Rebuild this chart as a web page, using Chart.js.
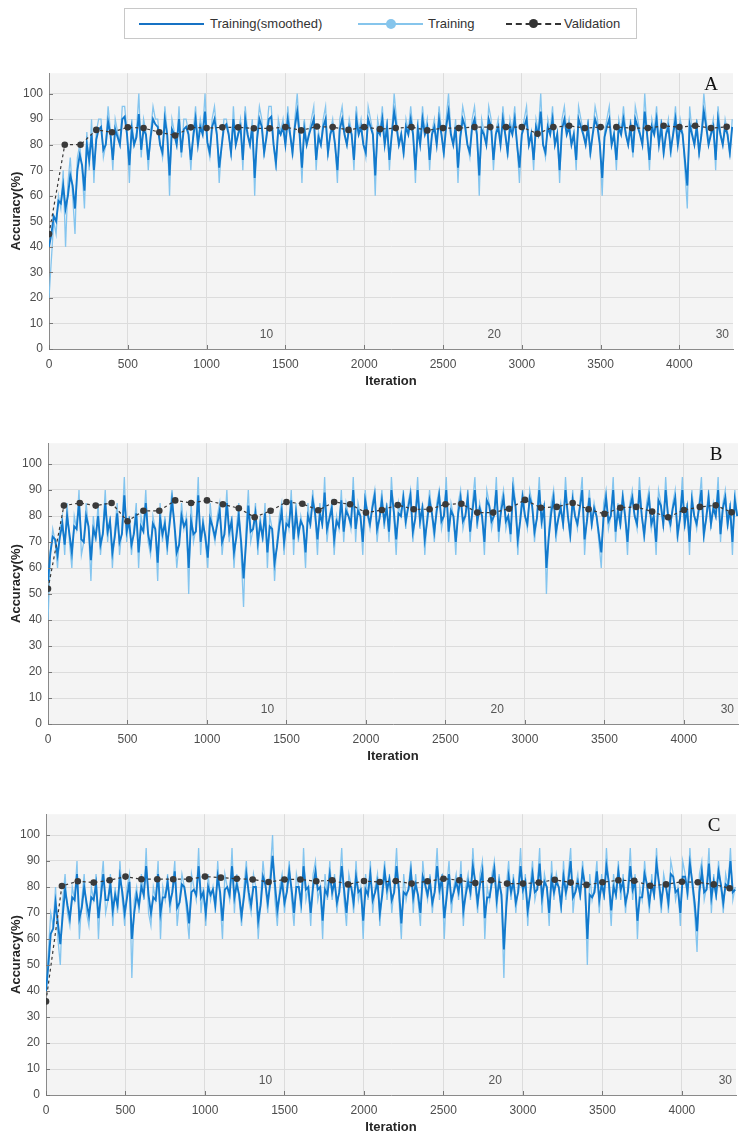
<!DOCTYPE html>
<html>
<head>
<meta charset="utf-8">
<script src="https://cdn.jsdelivr.net/npm/chart.js@4.4.1/dist/chart.umd.min.js"></script>
<style>
  body { margin: 0; width: 744px; height: 1144px; background: #fff; position: relative; overflow: hidden;
         font-family: "Liberation Sans", Arial, sans-serif; }
  canvas { position: absolute; left: 0; }
  #legend { position: absolute; left: 124px; top: 8px; width: 511px; height: 29px;
            border: 1px solid #c8c8c8; background: #fff; font-size: 13px; color: #333; }
  #legend .ln { position: absolute; top: 14px; height: 0; }
  #legend .dot { position: absolute; border-radius: 50%; }
  #legend .tx { position: absolute; top: 7px; white-space: nowrap; }
</style>
</head>
<body>

<div id="legend">
  <div class="ln" style="left:14px;width:65px;border-top:2px solid #1672c4"></div>
  <div class="tx" style="left:85px">Training(smoothed)</div>
  <div class="ln" style="left:233px;width:65px;border-top:2px solid #86c5ec"></div>
  <div class="dot" style="left:261px;top:10px;width:10px;height:10px;background:#86c5ec"></div>
  <div class="tx" style="left:303px">Training</div>
  <div class="ln" style="left:381px;width:55px;border-top:2px dashed #333"></div>
  <div class="dot" style="left:404px;top:10px;width:9px;height:9px;background:#333"></div>
  <div class="tx" style="left:439px">Validation</div>
</div>

<canvas id="chartA" width="744" height="331" style="top:60px"></canvas>
<canvas id="chartB" width="744" height="336" style="top:430px"></canvas>
<canvas id="chartC" width="744" height="336" style="top:801px"></canvas>

<script>
// training accuracy read every 15 iterations, validation every 100
const iterStep = 15;
const valStep = 100;
const maxIter = 4340;
const xTicks = [0, 500, 1000, 1500, 2000, 2500, 3000, 3500, 4000];
const yTicks = [0, 10, 20, 30, 40, 50, 60, 70, 80, 90, 100];
const epochLabels = ["10", "20", "30"];
const epochEnds = [1447, 2893, 4340];

// ---- panel A ----
const trainA = [
  20, 35, 50, 45, 60, 55, 70, 40, 65, 75,
  60, 45, 75, 80, 70, 55, 85, 70, 90, 65,
  85, 90, 90, 75, 80, 95, 85, 70, 90, 85,
  80, 95, 95, 85, 65, 90, 80, 85, 100, 75,
  90, 85, 70, 85, 95, 90, 90, 80, 75, 95,
  85, 60, 90, 85, 80, 95, 75, 90, 90, 85,
  70, 85, 95, 80, 90, 85, 100, 80, 75, 90,
  95, 85, 65, 80, 90, 90, 85, 75, 95, 80,
  85, 90, 70, 95, 85, 80, 90, 60, 85, 95,
  90, 75, 85, 95, 95, 80, 70, 90, 85, 90,
  80, 95, 85, 75, 90, 100, 85, 65, 90, 80,
  85, 90, 95, 70, 85, 80, 90, 95, 75, 85,
  90, 80, 65, 90, 95, 85, 80, 90, 85, 70,
  95, 85, 90, 80, 75, 95, 90, 85, 60, 90,
  85, 95, 80, 90, 70, 85, 100, 90, 80, 85,
  75, 90, 85, 95, 85, 65, 90, 80, 95, 85,
  90, 70, 85, 90, 80, 95, 85, 75, 90, 100,
  85, 80, 90, 65, 85, 95, 90, 80, 75, 90,
  95, 85, 60, 90, 85, 80, 95, 90, 70, 85,
  90, 80, 95, 85, 75, 90, 85, 95, 80, 65,
  85, 90, 95, 80, 85, 70, 90, 85, 100, 80,
  75, 90, 85, 95, 80, 85, 65, 90, 95, 85,
  90, 80, 85, 70, 95, 90, 85, 80, 90, 75,
  85, 95, 90, 80, 60, 85, 90, 95, 80, 85,
  70, 90, 85, 95, 85, 80, 90, 75, 95, 90,
  85, 80, 100, 85, 70, 90, 85, 95, 80, 90,
  75, 85, 90, 75, 85, 95, 80, 90, 85, 70,
  55, 95, 85, 80, 90, 75, 85, 100, 90, 80,
  85, 90, 70, 95, 85, 80, 90, 85, 75, 90
];
const smoothA = [
  40, 45, 52, 50, 58, 57, 64, 55, 60, 68,
  64, 55, 70, 76, 72, 62, 80, 74, 84, 70,
  82, 86, 87, 78, 80, 89, 84, 74, 86, 83,
  80, 90, 91, 84, 72, 86, 80, 83, 92, 78,
  86, 84, 74, 83, 90, 88, 87, 80, 77, 90,
  84, 68, 86, 84, 80, 90, 77, 86, 87, 84,
  74, 83, 90, 80, 87, 84, 93, 81, 77, 87,
  90, 84, 71, 79, 87, 88, 84, 77, 90, 80,
  84, 87, 74, 90, 84, 80, 87, 67, 82, 90,
  87, 77, 83, 90, 91, 80, 73, 86, 84, 87,
  80, 90, 84, 77, 87, 93, 84, 71, 86, 80,
  84, 87, 90, 74, 83, 80, 87, 90, 77, 84,
  87, 80, 70, 86, 90, 84, 80, 87, 84, 74,
  90, 84, 87, 80, 77, 90, 87, 84, 68, 86,
  84, 90, 80, 87, 74, 84, 93, 87, 80, 84,
  77, 87, 84, 90, 84, 70, 86, 80, 90, 84,
  87, 74, 84, 87, 80, 90, 84, 77, 87, 93,
  84, 80, 87, 71, 83, 90, 87, 80, 77, 87,
  90, 84, 68, 86, 84, 80, 90, 87, 74, 84,
  87, 80, 90, 84, 77, 87, 84, 90, 80, 71,
  84, 87, 90, 80, 84, 74, 87, 84, 93, 80,
  77, 87, 84, 90, 80, 84, 70, 86, 90, 84,
  87, 80, 84, 74, 90, 87, 84, 80, 87, 77,
  84, 90, 87, 80, 67, 83, 87, 90, 80, 84,
  74, 87, 84, 90, 84, 80, 87, 77, 90, 87,
  84, 80, 93, 84, 74, 87, 84, 90, 80, 87,
  77, 84, 87, 78, 84, 90, 80, 87, 84, 74,
  64, 88, 84, 80, 87, 77, 84, 93, 87, 80,
  84, 87, 74, 90, 84, 80, 87, 84, 77, 87
];
const valA = [
  45, 80, 80, 85.8, 84.9, 86.8, 86.5, 84.9, 83.6, 86.8,
  86.5, 86.8, 86.8, 86.4, 86.4, 86.9, 85.6, 87.1, 86.9, 85.8,
  86.9, 86.1, 86.5, 86.9, 85.6, 86.5, 86.5, 86.9, 86.9, 86.9,
  86.9, 84.3, 86.9, 87.4, 86.5, 86.9, 86.9, 86.5, 86.5, 87.4,
  86.9, 87.4, 86.5, 87
];

// ---- panel B ----
const trainB = [
  40, 65, 75, 70, 60, 75, 80, 65, 85, 70,
  60, 80, 75, 90, 65, 70, 85, 75, 55, 80,
  70, 85, 65, 75, 90, 70, 80, 60, 75, 85,
  65, 75, 95, 70, 80, 65, 75, 85, 60, 80,
  75, 90, 70, 65, 80, 75, 55, 85, 70, 80,
  65, 80, 90, 75, 60, 70, 85, 75, 80, 50,
  85, 70, 75, 95, 65, 80, 70, 60, 85, 75,
  70, 80, 85, 65, 75, 90, 70, 80, 60, 75,
  85, 65, 45, 75, 90, 70, 75, 85, 65, 80,
  70, 85, 60, 80, 75, 55, 70, 80, 85, 65,
  80, 75, 90, 65, 85, 70, 80, 75, 60, 85,
  75, 90, 80, 65, 85, 75, 95, 70, 80, 85,
  65, 80, 75, 90, 70, 85, 80, 75, 95, 70,
  85, 80, 65, 90, 80, 75, 85, 90, 70, 80,
  90, 75, 85, 70, 95, 80, 65, 85, 80, 90,
  75, 85, 90, 70, 80, 95, 75, 85, 65, 80,
  90, 80, 70, 85, 90, 75, 80, 95, 70, 85,
  80, 65, 85, 90, 75, 80, 90, 70, 85, 95,
  75, 85, 80, 65, 90, 85, 75, 80, 95, 70,
  85, 90, 75, 80, 70, 95, 85, 65, 80, 90,
  80, 75, 90, 85, 70, 80, 95, 75, 85, 50,
  75, 85, 90, 70, 80, 85, 75, 95, 80, 70,
  90, 80, 75, 85, 95, 65, 80, 90, 75, 85,
  80, 70, 60, 85, 90, 75, 80, 95, 70, 85,
  75, 90, 80, 65, 85, 90, 80, 75, 95, 80,
  70, 85, 90, 75, 80, 65, 90, 85, 75, 95,
  80, 75, 85, 90, 70, 80, 95, 75, 85, 65,
  90, 80, 75, 85, 95, 70, 80, 90, 75, 85,
  80, 95, 70, 85, 90, 75, 85, 65, 90, 80
];
const smoothB = [
  55, 66, 72, 71, 65, 72, 77, 69, 80, 73,
  66, 76, 75, 85, 71, 70, 80, 76, 63, 75,
  72, 80, 69, 73, 85, 74, 78, 66, 72, 81,
  70, 73, 88, 74, 78, 69, 73, 81, 66, 76,
  74, 85, 73, 68, 77, 75, 62, 79, 73, 77,
  69, 77, 86, 77, 66, 69, 80, 76, 78, 60,
  78, 73, 74, 88, 70, 77, 72, 64, 79, 76,
  72, 77, 82, 70, 73, 85, 74, 78, 66, 72,
  80, 70, 56, 69, 84, 74, 75, 81, 70, 77,
  72, 81, 66, 76, 75, 62, 68, 76, 82, 70,
  77, 76, 86, 71, 81, 73, 78, 76, 66, 80,
  77, 86, 81, 71, 81, 77, 89, 75, 79, 83,
  71, 78, 76, 86, 74, 82, 80, 77, 90, 75,
  82, 80, 70, 86, 81, 77, 83, 88, 75, 79,
  86, 78, 83, 74, 90, 82, 71, 81, 80, 87,
  78, 83, 88, 74, 79, 90, 78, 83, 71, 78,
  86, 81, 74, 82, 88, 78, 80, 90, 74, 82,
  80, 70, 81, 87, 78, 80, 87, 74, 82, 90,
  78, 83, 80, 70, 86, 84, 78, 80, 90, 74,
  82, 87, 78, 80, 73, 90, 84, 71, 78, 87,
  80, 77, 87, 84, 74, 79, 90, 78, 83, 60,
  72, 81, 87, 74, 79, 83, 77, 90, 80, 73,
  86, 80, 77, 83, 90, 71, 78, 87, 77, 83,
  80, 73, 66, 80, 87, 78, 80, 90, 74, 82,
  77, 87, 80, 70, 83, 87, 80, 77, 90, 80,
  73, 82, 87, 77, 80, 70, 86, 84, 77, 90,
  80, 77, 83, 87, 73, 79, 90, 77, 83, 70,
  86, 80, 77, 83, 90, 73, 79, 87, 77, 83,
  80, 90, 73, 83, 87, 77, 83, 70, 86, 80
];
const valB = [
  52, 84, 85, 84, 85, 78, 82, 82, 86, 85,
  86, 84.5, 83, 79.5, 82, 85.4, 84.7, 82.2, 85.4, 84.5,
  81.3, 82.3, 84.2, 82.6, 82.6, 84.5, 84.7, 81.3, 81.3, 82.8,
  86.2, 83.2, 83.5, 85, 82.6, 80.8, 83.2, 83.5, 81.7, 79.5,
  82.3, 83.5, 84.1, 81.4
];

// ---- panel C ----
const trainC = [
  40, 55, 70, 65, 80, 60, 50, 75, 85, 70,
  65, 80, 75, 90, 60, 75, 85, 70, 65, 80,
  75, 85, 60, 80, 90, 70, 75, 85, 65, 80,
  70, 90, 75, 65, 80, 85, 45, 75, 80, 70,
  85, 75, 95, 70, 65, 80, 75, 90, 60, 80,
  75, 85, 70, 80, 90, 65, 75, 85, 80, 70,
  60, 85, 80, 75, 95, 70, 80, 65, 85, 75,
  80, 70, 90, 75, 60, 85, 80, 75, 95, 70,
  85, 75, 65, 80, 90, 75, 70, 85, 80, 60,
  75, 90, 80, 70, 85, 100, 75, 65, 80, 85,
  70, 80, 90, 75, 65, 85, 80, 70, 95, 75,
  80, 65, 85, 90, 75, 80, 60, 85, 75, 90,
  75, 85, 70, 80, 95, 75, 65, 85, 80, 70,
  90, 75, 80, 60, 85, 75, 90, 70, 80, 85,
  65, 80, 90, 75, 85, 70, 80, 95, 75, 60,
  85, 75, 80, 90, 70, 85, 75, 65, 90, 80,
  75, 85, 70, 80, 95, 75, 85, 60, 80, 90,
  70, 80, 85, 75, 90, 65, 80, 85, 75, 95,
  80, 70, 85, 90, 60, 80, 75, 85, 90, 70,
  85, 75, 45, 80, 90, 75, 85, 70, 80, 95,
  75, 85, 65, 80, 90, 75, 80, 95, 70, 85,
  80, 65, 90, 75, 85, 80, 70, 90, 75, 85,
  95, 70, 80, 85, 75, 90, 80, 50, 85, 75,
  80, 90, 70, 85, 75, 95, 80, 65, 85, 75,
  90, 75, 85, 70, 80, 95, 75, 85, 60, 80,
  75, 90, 80, 70, 85, 75, 95, 80, 70, 85,
  80, 70, 90, 85, 75, 80, 65, 90, 85, 75,
  95, 80, 70, 55, 85, 90, 75, 80, 95, 70,
  85, 75, 90, 80, 70, 85, 80, 95, 75, 80
];
const smoothC = [
  40, 50, 62, 64, 74, 66, 58, 69, 79, 73,
  68, 76, 75, 85, 68, 72, 80, 74, 69, 76,
  75, 81, 68, 76, 85, 75, 75, 81, 71, 77,
  73, 84, 78, 70, 76, 82, 60, 70, 77, 73,
  80, 77, 88, 77, 70, 76, 75, 85, 70, 76,
  76, 82, 74, 78, 86, 72, 74, 81, 80, 74,
  66, 78, 79, 77, 88, 76, 78, 70, 80, 77,
  79, 73, 84, 78, 67, 79, 80, 77, 88, 76,
  81, 77, 69, 76, 85, 78, 73, 80, 80, 67,
  73, 84, 81, 74, 81, 92, 81, 71, 77, 82,
  74, 78, 86, 79, 70, 80, 80, 74, 88, 79,
  80, 70, 80, 86, 79, 80, 67, 79, 77, 85,
  78, 82, 74, 78, 88, 79, 70, 80, 80, 74,
  84, 78, 79, 67, 79, 77, 85, 75, 78, 82,
  70, 77, 86, 79, 83, 75, 78, 88, 79, 66,
  78, 77, 79, 86, 76, 81, 77, 70, 84, 81,
  77, 82, 74, 78, 88, 79, 83, 68, 76, 85,
  75, 78, 82, 78, 85, 71, 77, 82, 78, 88,
  82, 74, 81, 86, 68, 76, 76, 82, 87, 75,
  82, 77, 56, 72, 84, 78, 82, 74, 78, 88,
  79, 82, 71, 77, 85, 78, 79, 89, 76, 82,
  80, 70, 83, 78, 82, 80, 73, 84, 78, 82,
  90, 76, 78, 82, 77, 86, 81, 60, 77, 76,
  78, 86, 75, 81, 77, 88, 82, 71, 80, 77,
  86, 79, 82, 74, 78, 88, 79, 82, 67, 76,
  76, 85, 81, 74, 81, 77, 89, 82, 74, 81,
  80, 74, 85, 84, 78, 79, 70, 84, 84, 78,
  89, 82, 74, 63, 78, 86, 78, 79, 89, 76,
  82, 77, 86, 81, 74, 81, 80, 90, 78, 79
];
const valC = [
  36, 80.4, 82.2, 81.7, 82.6, 84, 83, 83, 83, 83,
  84, 83.6, 83.2, 82.9, 81.9, 82.9, 82.9, 82.2, 82.6, 81,
  82.3, 81.9, 82.3, 81.3, 82.2, 83.2, 82.6, 81.5, 82.6, 81.3,
  81.3, 81.7, 82.8, 81.7, 80.8, 81.8, 82.6, 82.4, 80.5, 81,
  82, 81.8, 81, 79.5
];

const rawColor = "rgba(125, 194, 238, 0.95)";
const smoothColor = "#1279cc";
const valColor = "#3a3a3a";
const tickFont = { family: "'Liberation Sans', Arial, sans-serif", size: 12 };

// background, inward ticks, epoch numbers and panel letter
const panelExtras = {
    id: "panelExtras",
    beforeDraw(chart) {
        const a = chart.chartArea;
        const ctx = chart.ctx;
        ctx.save();
        ctx.fillStyle = "#f4f4f4";
        ctx.fillRect(a.left, a.top, a.right - a.left, a.bottom - a.top);
        ctx.restore();
    },
    afterDraw(chart, args, opts) {
        const a = chart.chartArea;
        const ctx = chart.ctx;
        const xs = chart.scales.x;
        const ys = chart.scales.y;
        ctx.save();
        ctx.strokeStyle = "#777";
        ctx.lineWidth = 1;
        xTicks.forEach(v => {
            const px = Math.round(xs.getPixelForValue(v)) + 0.5;
            ctx.beginPath();
            ctx.moveTo(px, a.bottom);
            ctx.lineTo(px, a.bottom - 4);
            ctx.stroke();
        });
        yTicks.forEach(v => {
            const py = Math.round(ys.getPixelForValue(v)) + 0.5;
            ctx.beginPath();
            ctx.moveTo(a.left, py);
            ctx.lineTo(a.left + 4, py);
            ctx.stroke();
        });
        ctx.fillStyle = "#555";
        ctx.font = "12px 'Liberation Sans', Arial, sans-serif";
        ctx.textAlign = "right";
        ctx.textBaseline = "middle";
        epochLabels.forEach((lab, i) => {
            ctx.fillText(lab, xs.getPixelForValue(epochEnds[i]) - 4, ys.getPixelForValue(5.5));
        });
        ctx.fillStyle = "#111";
        ctx.font = "19px 'Liberation Serif', 'Times New Roman', serif";
        ctx.textAlign = "center";
        ctx.fillText(opts.letter, a.right - 22, ys.getPixelForValue(103.5));
        ctx.restore();
    }
};

function makeChart(id, raw, smooth, val, letter, yWidth, padRight) {
    const ctx = document.getElementById(id).getContext("2d");
    return new Chart(ctx, {
        type: "line",
        data: {
            datasets: [
                {
                    label: "Validation",
                    data: val.map((v, i) => ({ x: i * valStep, y: v })),
                    borderColor: valColor,
                    backgroundColor: valColor,
                    borderWidth: 1.2,
                    borderDash: [3, 3],
                    pointRadius: 3.3,
                    pointBorderWidth: 0,
                    order: 0
                },
                {
                    label: "Training(smoothed)",
                    data: smooth.map((v, i) => ({ x: i * iterStep, y: v })),
                    borderColor: smoothColor,
                    borderWidth: 1.9,
                    pointRadius: 0,
                    order: 1
                },
                {
                    label: "Training",
                    data: raw.map((v, i) => ({ x: i * iterStep, y: v })),
                    borderColor: rawColor,
                    borderWidth: 1.3,
                    pointRadius: 0,
                    order: 2
                }
            ]
        },
        options: {
            responsive: false,
            animation: false,
            devicePixelRatio: 1,
            layout: { padding: { top: 12, right: padRight, left: 0, bottom: 0 } },
            plugins: {
                legend: { display: false },
                tooltip: { enabled: false },
                panelExtras: { letter: letter }
            },
            scales: {
                x: {
                    type: "linear",
                    min: 0,
                    max: maxIter,
                    afterBuildTicks: s => { s.ticks = xTicks.map(v => ({ value: v })); },
                    afterFit: s => { s.height = 42; },
                    ticks: {
                        autoSkip: false, padding: 8, color: "#4d4d4d", font: tickFont, maxRotation: 0,
                        callback: v => String(v)
                    },
                    grid: { color: "#dcdcdc", drawTicks: false },
                    border: { color: "#8a8a8a" },
                    title: {
                        display: true,
                        text: "Iteration",
                        color: "#262626",
                        font: { family: tickFont.family, size: 13, weight: "bold" },
                        padding: { top: 0, bottom: 2 }
                    }
                },
                y: {
                    min: 0,
                    max: 108,
                    afterBuildTicks: s => { s.ticks = yTicks.map(v => ({ value: v })); },
                    afterFit: s => { s.width = yWidth; },
                    ticks: { autoSkip: false, padding: 6, color: "#4d4d4d", font: tickFont },
                    grid: { color: "#dcdcdc", drawTicks: false },
                    border: { color: "#8a8a8a" },
                    title: {
                        display: true,
                        text: "Accuracy(%)",
                        color: "#262626",
                        font: { family: tickFont.family, size: 13, weight: "bold" },
                        padding: { top: 9, bottom: 0 }
                    }
                }
            }
        },
        plugins: [panelExtras]
    });
}

makeChart("chartA", trainA, smoothA, valA, "A", 49, 11);
makeChart("chartB", trainB, smoothB, valB, "B", 48, 6);
makeChart("chartC", trainC, smoothC, valC, "C", 46, 8);
</script>
</body>
</html>
